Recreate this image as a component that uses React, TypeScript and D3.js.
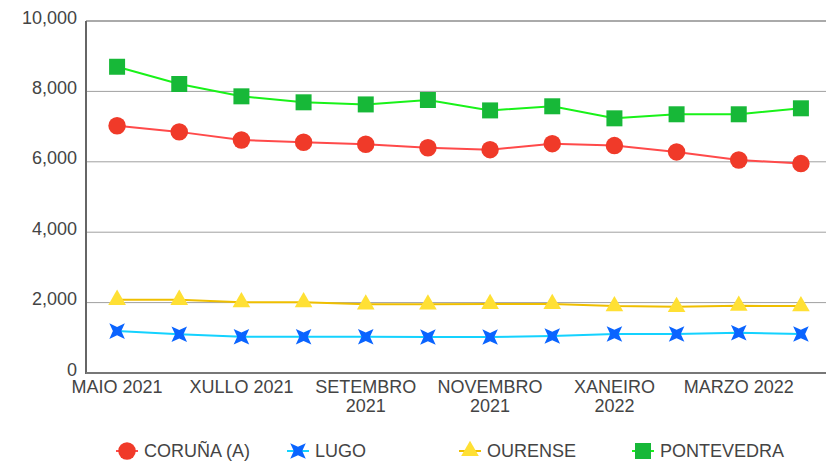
import React, { useEffect, useRef } from 'react';
import * as d3 from 'd3';

const months = [
  'MAIO 2021', 'XUÑO 2021', 'XULLO 2021', 'AGOSTO 2021', 'SETEMBRO 2021', 'OUTUBRO 2021',
  'NOVEMBRO 2021', 'DECEMBRO 2021', 'XANEIRO 2022', 'FEBREIRO 2022', 'MARZO 2022', 'ABRIL 2022',
];
const shownLabels = [
  ['MAIO 2021'], [], ['XULLO 2021'], [], ['SETEMBRO', '2021'], [],
  ['NOVEMBRO', '2021'], [], ['XANEIRO', '2022'], [], ['MARZO 2022'], [],
];
const coruna = [7025, 6850, 6620, 6555, 6500, 6400, 6345, 6515, 6460, 6280, 6050, 5950];
const lugo = [1190, 1100, 1030, 1030, 1030, 1020, 1020, 1050, 1110, 1110, 1145, 1110];
const ourense = [2080, 2080, 2010, 2010, 1950, 1950, 1960, 1960, 1900, 1880, 1910, 1900];
const pontevedra = [8700, 8210, 7860, 7690, 7630, 7755, 7460, 7577, 7235, 7350, 7350, 7520];
const yTicks = [0, 2000, 4000, 6000, 8000, 10000];

const series = [
  { name: 'CORUÑA (A)', values: coruna, line: '#ff4a4a', fill: '#f03a29', shape: 'circle' },
  { name: 'LUGO', values: lugo, line: '#14d2ff', fill: '#0a64ff', shape: 'star4' },
  { name: 'OURENSE', values: ourense, line: '#efbf00', fill: '#ffe034', shape: 'triangle' },
  { name: 'PONTEVEDRA', values: pontevedra, line: '#19f219', fill: '#17b838', shape: 'square' },
];

const star4 = () => {
  const pts: [number, number][] = [];
  for (let i = 0; i < 8; i++) {
    const a = (Math.PI / 4) * i + Math.PI / 4;
    const r = i % 2 === 0 ? 11 : 4.2;
    pts.push([Math.cos(a) * r, Math.sin(a) * r]);
  }
  return 'M' + pts.map(p => p.join(',')).join('L') + 'Z';
};

const markerPath = (shape: string) => {
  if (shape === 'circle') return d3.symbol(d3.symbolCircle, 240)()!;
  if (shape === 'square') return d3.symbol(d3.symbolSquare, 256)()!;
  if (shape === 'triangle') return d3.symbol(d3.symbolTriangle, 135)()!;
  return star4();
};

const App: React.FC = () => {
  const svgRef = useRef<SVGSVGElement>(null);

  useEffect(() => {
    if (!svgRef.current) return;
    const svg = d3.select(svgRef.current);
    svg.selectAll('*').remove();

    const left = 86, right = 832, top = 21, bottom = 373;
    const font = '"Liberation Sans", Arial, sans-serif';

    const x = d3.scaleBand<string>().domain(months).range([left, right]);
    const y = d3.scaleLinear().domain([0, 10000]).range([bottom, top]);
    const cx = (m: string) => x(m)! + x.bandwidth() / 2;

    // gridlines
    svg.append('g')
      .selectAll('line')
      .data(yTicks.filter(t => t > 0))
      .enter()
      .append('line')
      .attr('x1', left).attr('x2', 826)
      .attr('y1', d => y(d)).attr('y2', d => y(d))
      .attr('stroke', d => (d === 10000 ? '#aaaaaa' : '#a0a0a0'))
      .attr('stroke-width', d => (d === 10000 ? 2 : 1));

    // y axis labels
    svg.append('g')
      .selectAll('text')
      .data(yTicks)
      .enter()
      .append('text')
      .attr('x', 77)
      .attr('y', d => y(d) + 2.5)
      .attr('text-anchor', 'end')
      .attr('font-family', font)
      .attr('font-size', 18)
      .attr('fill', '#444')
      .text(d => d3.format(',')(d));

    // axes lines
    svg.append('line').attr('x1', left).attr('x2', left).attr('y1', top).attr('y2', bottom + 1)
      .attr('stroke', '#666').attr('stroke-width', 2);
    svg.append('line').attr('x1', left).attr('x2', 826).attr('y1', bottom).attr('y2', bottom)
      .attr('stroke', '#777').attr('stroke-width', 2);

    // x labels
    const xl = svg.append('g');
    months.forEach((m, i) => {
      shownLabels[i].forEach((line, j) => {
        xl.append('text')
          .attr('x', cx(m))
          .attr('y', 392.5 + j * 19.5)
          .attr('text-anchor', 'middle')
          .attr('font-family', font)
          .attr('font-size', 18)
          .attr('fill', '#444')
          .text(line);
      });
    });

    const line = d3.line<number>()
      .x((_, i) => cx(months[i]))
      .y(d => y(d));

    series.forEach(s => {
      svg.append('path')
        .datum(s.values)
        .attr('fill', 'none')
        .attr('stroke', s.line)
        .attr('stroke-width', 2)
        .attr('d', line);
      svg.append('g')
        .selectAll('path')
        .data(s.values)
        .enter()
        .append('path')
        .attr('d', markerPath(s.shape))
        .attr('transform', (d, i) => `translate(${cx(months[i])},${y(d)})`)
        .attr('fill', s.fill);
    });

    // legend
    const legendX = [127, 298, 470, 643];
    const lg = svg.append('g');
    series.forEach((s, i) => {
      const g = lg.append('g').attr('transform', `translate(${legendX[i]},451)`);
      g.append('line').attr('x1', -11).attr('x2', 11).attr('y1', 0).attr('y2', 0)
        .attr('stroke', s.line).attr('stroke-width', 2);
      g.append('path').attr('d', markerPath(s.shape)).attr('fill', s.fill);
      g.append('text')
        .attr('x', 17)
        .attr('y', 6)
        .attr('font-family', font)
        .attr('font-size', 18)
        .attr('fill', '#444')
        .text(s.name);
    });
  }, []);

  return (
    <svg
      ref={svgRef}
      width={826}
      height={462}
      style={{ position: 'absolute', left: 0, top: 0, background: '#fff' }}
    />
  );
};

export default App;
